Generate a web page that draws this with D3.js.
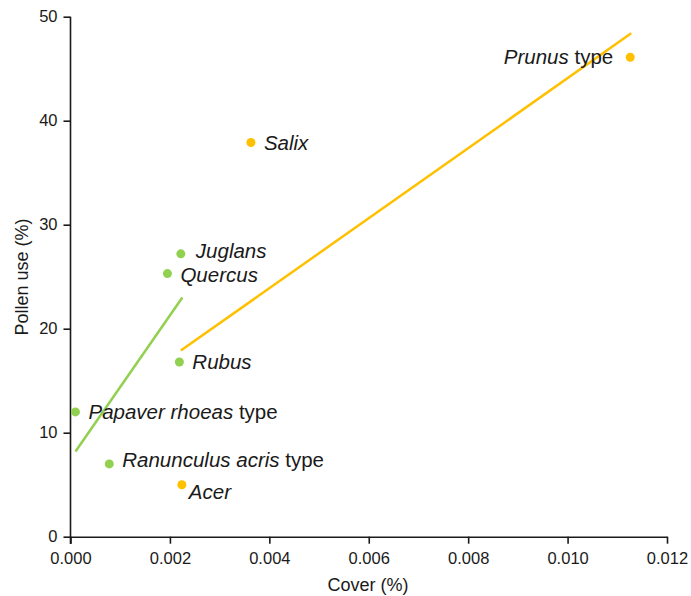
<!DOCTYPE html>
<html><head><meta charset="utf-8">
<script src="https://cdn.jsdelivr.net/npm/d3@7"></script>
<style>body{margin:0;background:#fff}text{font-family:"Liberation Sans",Arial,sans-serif;fill:#1a1a1a}</style>
</head><body><svg id="c" width="691" height="596"></svg>
<script>
const names = ["Prunus", "Salix", "Juglans", "Quercus", "Rubus", "Papaver rhoeas", "Ranunculus acris", "Acer"];
const suffix = [" type", "", "", "", "", " type", " type", ""];
const cover = [0.01126, 0.00363, 0.00222, 0.00195, 0.00219, 0.0001, 0.00078, 0.00224];
const pollen = [46.1, 37.9, 27.2, 25.3, 16.8, 12.0, 7.0, 5.0];
const group = ["orange", "orange", "green", "green", "green", "green", "green", "orange"];
const greenLine = {x: [0.0001, 0.00225], y: [8.2, 23.0]};
const orangeLine = {x: [0.00222, 0.01128], y: [17.9, 48.4]};
const xTicks = [0, 0.002, 0.004, 0.006, 0.008, 0.010, 0.012];
const yTicks = [0, 10, 20, 30, 40, 50];

const colors = {green: "#92D050", orange: "#FFC000"};
// label offsets (dx, dy, anchor) relative to the point
const labelPos = [[-17, 7, "end"], [13, 7, "start"], [15, 4, "start"], [13, 8, "start"], [13, 7, "start"], [13, 7, "start"], [13, 3, "start"], [7, 14, "start"]];

const svg = d3.select("#c");
const x = d3.scaleLinear().domain([0, 0.012]).range([70.5, 667]);
const y = d3.scaleLinear().domain([0, 50]).range([536.7, 16.7]);

const xAxis = svg.append("g").attr("transform", "translate(0,536.7)")
  .call(d3.axisBottom(x).tickValues(xTicks).tickFormat(d3.format(".3f")).tickSize(7).tickSizeOuter(0).tickPadding(9));
const yAxis = svg.append("g").attr("transform", "translate(70.5,0)")
  .call(d3.axisLeft(y).tickValues(yTicks).tickSize(7).tickSizeOuter(0).tickPadding(6));
[xAxis, yAxis].forEach(a => {
  a.selectAll("path,line").attr("stroke", "#1a1a1a").attr("stroke-width", 1.6);
  a.selectAll("text").style("font-size", "16.5px").attr("fill", "#1a1a1a");
});
yAxis.select(".domain").attr("d", "M0,16.7V544");

svg.append("text").attr("x", 368).attr("y", 591).attr("text-anchor", "middle").style("font-size", "18px").text("Cover (%)");
svg.append("text").attr("transform", "translate(28,277) rotate(-90)").attr("text-anchor", "middle").style("font-size", "18px").text("Pollen use (%)");

[[greenLine, colors.green], [orangeLine, colors.orange]].forEach(([l, c]) => {
  svg.append("line").attr("x1", x(l.x[0])).attr("y1", y(l.y[0])).attr("x2", x(l.x[1])).attr("y2", y(l.y[1]))
    .attr("stroke", c).attr("stroke-width", 2.5);
});

const idx = d3.range(names.length);
svg.selectAll("circle.pt").data(idx).join("circle").attr("class", "pt")
  .attr("cx", i => x(cover[i])).attr("cy", i => y(pollen[i])).attr("r", 4.5)
  .attr("fill", i => colors[group[i]]);

const labels = svg.selectAll("text.lab").data(idx).join("text").attr("class", "lab")
  .attr("x", i => x(cover[i]) + labelPos[i][0]).attr("y", i => y(pollen[i]) + labelPos[i][1])
  .attr("text-anchor", i => labelPos[i][2]).style("font-size", "20.5px");
labels.append("tspan").style("font-style", "italic").text(i => names[i]);
labels.append("tspan").text(i => suffix[i]);
</script></body></html>
